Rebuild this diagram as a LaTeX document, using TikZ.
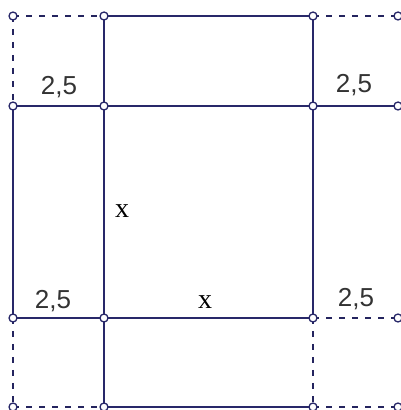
\documentclass[tikz,border=0pt]{standalone}
\usepackage{fontspec}
\setmainfont{Liberation Serif}
\newfontfamily\lsans{Liberation Sans}
\begin{document}
\begin{tikzpicture}[x=1pt,y=1pt,
  ln/.style={draw=navy,line width=2pt},
  dsh/.style={draw=navy!90!black,line width=2pt,dash pattern=on 6pt off 7pt},
  pt/.style={circle,draw=navy,fill=white,line width=1.3pt,inner sep=0pt,minimum size=8pt},
  num/.style={font=\lsans\fontsize{26}{26}\selectfont,text=black!80,inner sep=0pt},
  var/.style={font=\fontsize{28}{28}\selectfont,inner sep=0pt}]
\definecolor{navy}{RGB}{40,40,105}
\useasboundingbox (0,0) rectangle (400,410);
% grid coordinates: x = 13,104,313,398 ; y = 394,304,92,3
\foreach \i/\x in {1/13,2/104,3/313,4/398}{
  \foreach \j/\y in {1/394,2/304,3/92,4/3}{
    \coordinate (p\i\j) at (\x,\y);
  }
}
% solid
\draw[ln] (p21) -- (p31);
\draw[ln] (p21) -- (p24);
\draw[ln] (p31) -- (p33);
\draw[ln] (p12) -- (p42);
\draw[ln] (p13) -- (p33);
\draw[ln] (p24) -- (p34);
\draw[ln] (p12) -- (p13);
% dashed
\draw[dsh] (p11) -- (p21);
\draw[dsh] (p31) -- (p41);
\draw[dsh] (p11) -- (p12);
\draw[dsh] (p13) -- (p14);
\draw[dsh] (p33) -- (p43);
\draw[dsh] (p33) -- (p34);
\draw[dsh] (p14) -- (p24);
\draw[dsh] (p34) -- (p44);
% points
\foreach \i in {1,2,3,4}{
  \foreach \j in {1,2,3,4}{
    \node[pt] (c\i\j) at (p\i\j) {};
  }
}
% labels
\node[num] (l1) at (59,323) {2,5};
\node[num] (l2) at (354,325) {2,5};
\node[num] (l3) at (53,109) {2,5};
\node[num] (l4) at (356,111) {2,5};
\node[var] (x1) at (122,199) {x};
\node[var] (x2) at (205,108) {x};
\end{tikzpicture}
\end{document}
